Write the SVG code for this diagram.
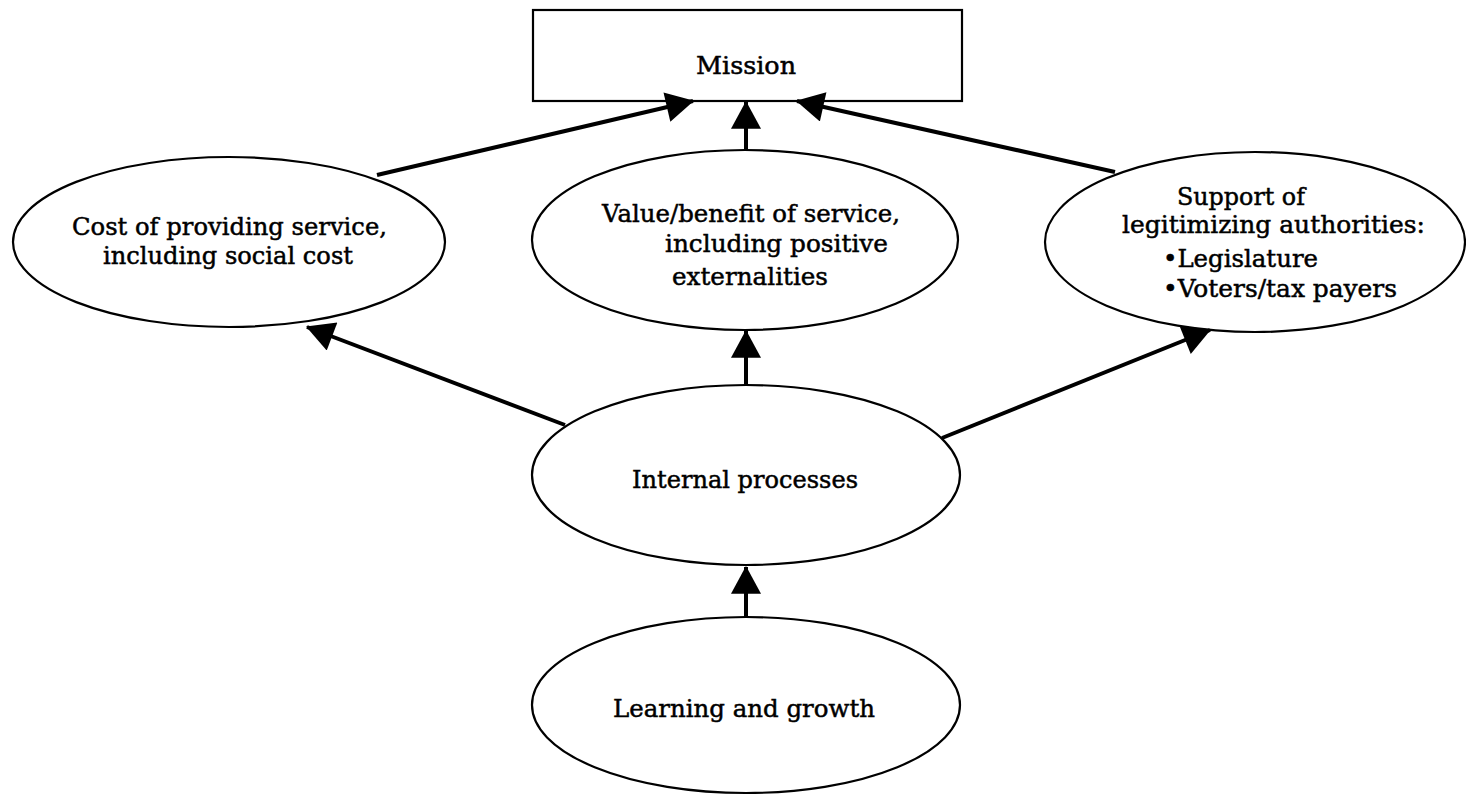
<svg xmlns="http://www.w3.org/2000/svg" width="1466" height="795" viewBox="0 0 1466 795">
<defs>
<style>
.node{fill:#fff;stroke:#000;stroke-width:2.2}
.t{font-family:"DejaVu Serif","Liberation Serif",serif;font-size:25px;fill:#000;stroke:#000;stroke-width:0.5}
.edge{stroke:#000;stroke-width:4;fill:none;marker-end:url(#ah)}
</style>
<marker id="ah" markerUnits="userSpaceOnUse" markerWidth="30" markerHeight="30" viewBox="0 0 26 28" refX="25" refY="14" orient="auto">
<path d="M0,0 L26,14 L0,28 Z" fill="#000"/>
</marker>
</defs>
<g id="mission">
<rect class="node" x="533" y="10" width="429" height="91"/>
<text class="t" x="696" y="74" textLength="100" lengthAdjust="spacingAndGlyphs">Mission</text>
</g>
<g id="cost">
<ellipse class="node" cx="229" cy="242" rx="216" ry="85"/>
<text class="t" x="72" y="235" textLength="315" lengthAdjust="spacingAndGlyphs">Cost of providing service,</text>
<text class="t" x="103" y="264" textLength="250" lengthAdjust="spacingAndGlyphs">including social cost</text>
</g>
<g id="value">
<ellipse class="node" cx="745" cy="240" rx="213" ry="90"/>
<text class="t" x="602" y="222" textLength="298" lengthAdjust="spacingAndGlyphs">Value/benefit of service,</text>
<text class="t" x="665" y="252" textLength="223" lengthAdjust="spacingAndGlyphs">including positive</text>
<text class="t" x="672" y="285" textLength="156" lengthAdjust="spacingAndGlyphs">externalities</text>
</g>
<g id="support">
<ellipse class="node" cx="1255" cy="242" rx="210" ry="90"/>
<text class="t" x="1177" y="205" textLength="128" lengthAdjust="spacingAndGlyphs">Support of</text>
<text class="t" x="1122" y="233" textLength="303" lengthAdjust="spacingAndGlyphs">legitimizing authorities:</text>
<text class="t" x="1163" y="267" textLength="155" lengthAdjust="spacingAndGlyphs">•Legislature</text>
<text class="t" x="1163" y="297" textLength="234" lengthAdjust="spacingAndGlyphs">•Voters/tax payers</text>
</g>
<g id="internal">
<ellipse class="node" cx="746" cy="475" rx="214" ry="90"/>
<text class="t" x="632" y="488" textLength="226" lengthAdjust="spacingAndGlyphs">Internal processes</text>
</g>
<g id="learning">
<ellipse class="node" cx="746" cy="705" rx="214" ry="88"/>
<text class="t" x="613" y="717" textLength="262" lengthAdjust="spacingAndGlyphs">Learning and growth</text>
</g>
<g id="connectors">
<line class="edge" x1="377" y1="175" x2="693" y2="101"/>
<line class="edge" x1="746" y1="150" x2="746" y2="102"/>
<line class="edge" x1="1115" y1="172" x2="797" y2="101"/>
<line class="edge" x1="565" y1="425" x2="307" y2="327"/>
<line class="edge" x1="746" y1="385" x2="746" y2="331"/>
<line class="edge" x1="942" y1="438" x2="1210" y2="330"/>
<line class="edge" x1="746" y1="617" x2="746" y2="567"/>
</g>
</svg>
